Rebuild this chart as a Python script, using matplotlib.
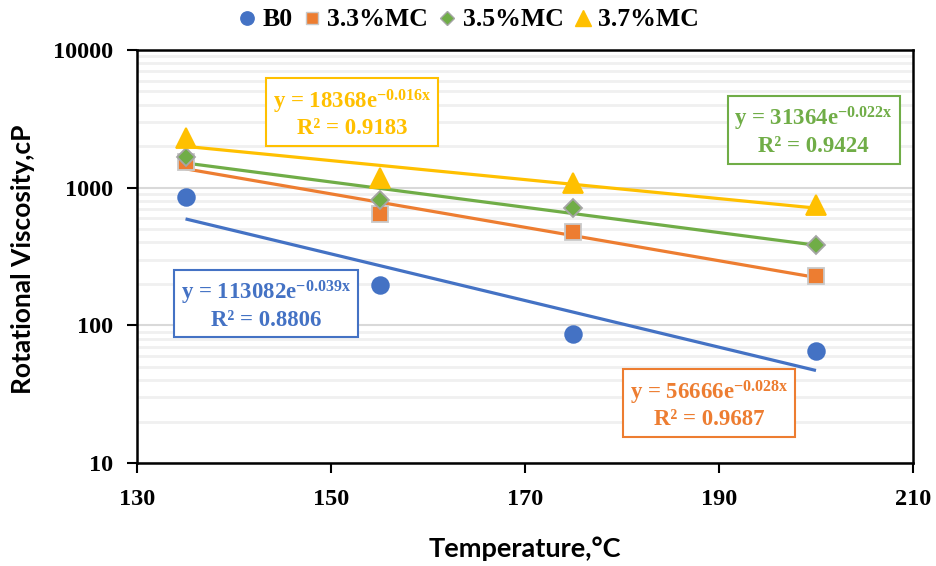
import numpy as np
import matplotlib
matplotlib.use("Agg")
import matplotlib.pyplot as plt
from matplotlib.lines import Line2D
from matplotlib.ticker import LogLocator, FixedLocator, NullFormatter

# Measured rotational viscosity (cP) at each test temperature (°C)
temperature = [135, 155, 175, 200]
series_names = ["B0", "3.3%MC", "3.5%MC", "3.7%MC"]
visc_b0 = [855, 196, 86.5, 65]
visc_33 = [1535, 643, 476, 228]
visc_35 = [1668, 813, 711, 383]
visc_37 = [2290, 1175, 1080, 748]

# Exponential trendline labels
eq_labels = [
    ("113082", "-0.039x", "0.8806"),
    ("56666", "-0.028x", "0.9687"),
    ("31364", "-0.022x", "0.9424"),
    ("18368", "-0.016x", "0.9183"),
]

colors = ["#4472C4", "#ED7D31", "#70AD47", "#FFC000"]
markers = ["o", "s", "D", "^"]
msizes = [12, 11, 9, 14]
edgecols = ["#4472C4", "#C9C9C9", "#A5A5A5", "#FFC000"]
label_pos = [(0.166, 0.383), (0.737, 0.142), (0.872, 0.804), (0.277, 0.847)]

plt.rcParams["mathtext.fontset"] = "custom"
plt.rcParams["mathtext.rm"] = "Liberation Serif:bold"
plt.rcParams["mathtext.bf"] = "Liberation Serif:bold"
plt.rcParams["mathtext.it"] = "Liberation Serif:bold"

serif_bold = dict(family="Liberation Serif", weight="bold")

fig = plt.figure(figsize=(9.36, 5.66), dpi=100)
ax = fig.add_axes([0.1464, 0.182, 0.829, 0.7297])

ax.set_yscale("log")
ax.set_xlim(130, 210)
ax.set_ylim(10, 10000)

x = np.array(temperature, dtype=float)
all_series = [visc_b0, visc_33, visc_35, visc_37]

handles = []
for i, vals in enumerate(all_series):
    y = np.array(vals, dtype=float)
    # exponential least-squares fit (linear in log space)
    b, ln_a = np.polyfit(x, np.log(y), 1)
    xf = np.linspace(x.min(), x.max(), 50)
    ax.plot(xf, np.exp(ln_a + b * xf), color=colors[i], lw=2.3, zorder=3,
            solid_capstyle="butt")
    ax.plot(x, y, linestyle="none", marker=markers[i], ms=msizes[i],
            mfc=colors[i], mec=edgecols[i], mew=1.3, zorder=4)
    handles.append(Line2D([], [], linestyle="none", marker=markers[i],
                          ms=msizes[i] * 0.8, mfc=colors[i],
                          mec=edgecols[i], mew=1.0))

# Trendline equation boxes
for i, (a_txt, exp_txt, r2) in enumerate(eq_labels):
    txt = "y = %se$^{%s}$\nR² = %s" % (a_txt, exp_txt, r2)
    ax.text(label_pos[i][0], label_pos[i][1], txt, transform=ax.transAxes,
            ha="center", va="center", multialignment="center",
            color=colors[i], fontsize=16.5, linespacing=1.15, zorder=6,
            bbox=dict(boxstyle="square,pad=0.3", fc="white",
                      ec=colors[i], lw=1.5), **serif_bold)

# Grid
ax.yaxis.set_major_locator(FixedLocator([10, 100, 1000, 10000]))
ax.yaxis.set_minor_locator(LogLocator(base=10, subs=np.arange(2, 10)))
ax.yaxis.set_minor_formatter(NullFormatter())
ax.grid(which="major", axis="y", color="#D9D9D9", lw=1.5, zorder=0)
ax.grid(which="minor", axis="y", color="#F0F0F0", lw=2.0, zorder=0)
ax.set_axisbelow(True)
ax.tick_params(axis="y", which="minor", length=0)

ax.set_xticks([130, 150, 170, 190, 210])
ax.set_yticklabels(["10", "100", "1000", "10000"])
ax.tick_params(axis="both", which="major", direction="out", length=7,
               width=1.5, colors="black")
ax.tick_params(axis="x", pad=12)
ax.tick_params(axis="y", pad=10)
for lab in ax.get_xticklabels() + ax.get_yticklabels():
    lab.set_fontfamily("Liberation Serif")
    lab.set_fontweight("bold")
    lab.set_fontsize(17.5)

for sp in ax.spines.values():
    sp.set_color("black")
    sp.set_linewidth(1.8)

fig.text(0.0245, 1 - 259 / 566, "Rotational Viscosity,cP", rotation=90,
         ha="center", va="center", fontsize=19, family="Lato",
         weight="bold")
fig.text(525 / 936, 1 - 549 / 566, "Temperature,\u00b0C", ha="center",
         va="center", fontsize=19.5, family="Lato", weight="bold")

fig.legend(handles, series_names, loc="center",
           bbox_to_anchor=(0.5, 1 - 20 / 566), ncol=4, frameon=False,
           prop=dict(family="Liberation Serif", weight="bold", size=18.5),
           handletextpad=0.2, columnspacing=0.35, handlelength=0.8)

fig.savefig("out.png", dpi=100, facecolor="white")
